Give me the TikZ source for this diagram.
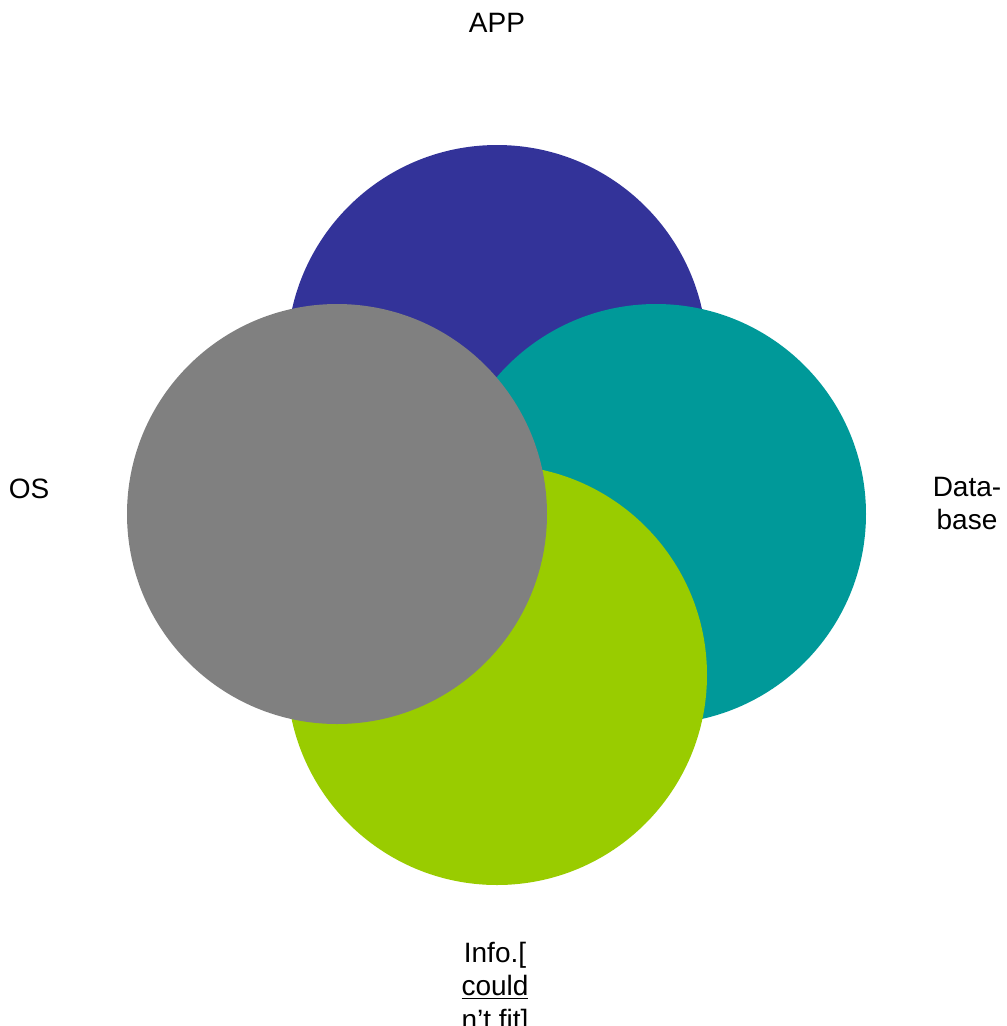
\documentclass[tikz,border=0pt]{standalone}
\usepackage{fontspec}
\setmainfont{Liberation Sans}
\usepackage{tikz}
\usetikzlibrary{positioning}
\definecolor{appblue}{HTML}{333399}
\definecolor{dbteal}{HTML}{009999}
\definecolor{infogreen}{HTML}{99CC00}
\definecolor{osgray}{HTML}{808080}

\begin{document}
\begin{tikzpicture}[x=0.75pt, y=-0.75pt,
  lbl/.style={font=\fontsize{21}{25}\selectfont, align=center, inner sep=0pt}]
\clip (0,0) rectangle (1007,1026);
% four equal circles, each one shifted off the centre, later ones painted over earlier ones
\fill[appblue] (497,355) circle (210);
\fill[dbteal] (656,514) circle (210);
\fill[infogreen] (497,675) circle (210);
\fill[osgray] (337,514) circle (210);
% labels outside the circles
\node[lbl] (app) at (497,23) {APP};
\node[lbl] (os) at (29,489) {OS};
\node[lbl, anchor=north] (db) at (967,477) {Data-\\base};
\node[lbl, anchor=north] (info) at (495,942) {Info.[\\\underline{could}\\n’t fit]};
\end{tikzpicture}
\end{document}
